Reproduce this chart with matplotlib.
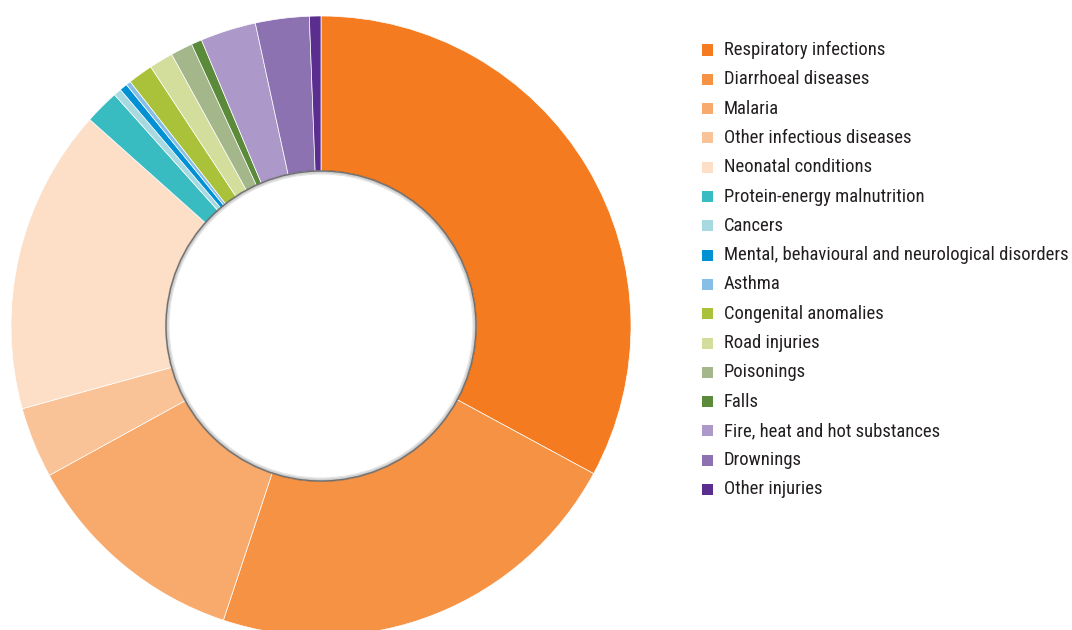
import matplotlib.pyplot as plt
from matplotlib import font_manager
from matplotlib.patches import Circle, Rectangle

labels = ["Respiratory infections", "Diarrhoeal diseases", "Malaria",
          "Other infectious diseases", "Neonatal conditions",
          "Protein-energy malnutrition", "Cancers",
          "Mental, behavioural and neurological disorders", "Asthma",
          "Congenital anomalies", "Road injuries", "Poisonings", "Falls",
          "Fire, heat and hot substances", "Drownings", "Other injuries"]
shares = [32.9, 22.2, 11.9, 3.7, 15.9, 1.8, 0.4, 0.4, 0.25,
          1.3, 1.25, 1.15, 0.55, 2.9, 2.8, 0.6]
colors = ["#F47B20", "#F69244", "#F8AA6C", "#FAC397", "#FDDFC8",
          "#38BBC1", "#A6DAE0", "#0090D4", "#86BEE8", "#AAC23A",
          "#D3DE9C", "#A3B78A", "#5A8A3A", "#AD99C9", "#8D72B1", "#5A2D8F"]

W, H = 1072, 630
fig = plt.figure(figsize=(W / 100, H / 100), dpi=100)

# donut: centre (321, 326) px, outer radius 310 px
cx, cy, r = 321, 326, 310
ax = fig.add_axes([(cx - r) / W, (H - cy - r) / H, 2 * r / W, 2 * r / H])
wedges, _ = ax.pie(shares, colors=colors, startangle=90, counterclock=False,
                   radius=1, wedgeprops=dict(width=0.5, edgecolor="white", linewidth=0.5))

# hole with a soft grey rim
for k, a in enumerate([0.3, 0.18, 0.1, 0.05]):
    ax.add_patch(Circle((0, 0), 0.5 - k * 0.004, facecolor="none",
                        edgecolor="#444444", alpha=a, lw=1.5, zorder=3))
ax.add_patch(Circle((0, 0), 0.488, facecolor="white", edgecolor="none", zorder=4))
ax.add_patch(Circle((0, 0), 0.5, facecolor="none", edgecolor="#6f6f6f", lw=0.9, zorder=5))
ax.set_xlim(-1, 1)
ax.set_ylim(-1, 1)
ax.axis("off")

# pick a narrow face if one is installed
installed = {f.name for f in font_manager.fontManager.ttflist}
fam = "Liberation Sans"
for cand in ["Roboto Condensed", "Liberation Sans Narrow", "Open Sans Condensed",
             "Noto Sans Condensed", "DejaVu Sans Condensed"]:
    if cand in installed:
        fam = cand
        break

# size so the longest label spans about 344 px, as in the reference
renderer = fig.canvas.get_renderer()
probe = fig.text(0, 0, labels[7], fontsize=10, family=fam)
width = probe.get_window_extent(renderer).width
probe.remove()
fsize = min(13.5, 10 * 344 / width)

for i, (lab, col) in enumerate(zip(labels, colors)):
    y = 50 + i * 29.3
    fig.patches.append(Rectangle((702 / W, 1 - (y + 5.5) / H), 11 / W, 11 / H,
                                 transform=fig.transFigure, facecolor=col,
                                 edgecolor="none"))
    fig.text(724 / W, 1 - y / H, lab, ha="left", va="center",
             fontsize=fsize, color="#231F20", family=fam)

fig.savefig("out.png", dpi=100)
